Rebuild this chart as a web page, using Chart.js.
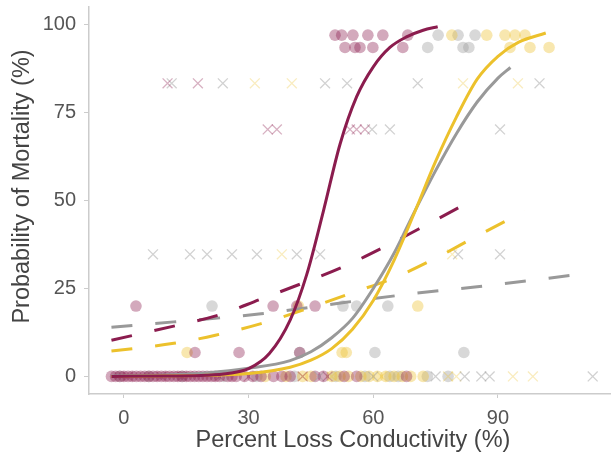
<!DOCTYPE html>
<html>
<head>
<meta charset="utf-8">
<script src="https://cdn.jsdelivr.net/npm/chart.js@4/dist/chart.umd.min.js"></script>
<style>
  html, body { margin: 0; padding: 0; background: #ffffff; }
  #chart { display: block; }
</style>
</head>
<body>
<canvas id="chart" width="611" height="471"></canvas>
<script>
// ---- observed outcomes: [percent loss conductivity, mortality %] ----
const maroonDots = [
  [-3,0],[-2,0],[-1,0],[0,0],[1,0],[2,0],[3,0],[4,0],[5,0],[6,0],[7,0],[8,0],[9,0],[10,0],
  [11,0],[12,0],[13,0],[14,0],[15,0],[16,0],[17,0],[18,0],[19,0],[20,0],[21,0],[22,0],[23,0],
  [25,0],[26,0],[27,0],[29,0],[31,0],[33,0],[36,0],[38,0],[40,0],[46,0],[48,0],[53,0],[56,0],[68,0],
  [17.1,6.8],[27.7,6.8],[42.3,6.8],
  [2.9,20],[35.9,20],[41.6,20],[46,20],
  [53.2,93.5],[55.6,93.5],[56.8,93.5],[59.9,93.5],[67.1,93.5],
  [50.8,97],[52.4,97],[55.1,97],[58.7,97],[62.3,97],[68.3,97]
];
const goldDots = [
  [34,0],[39,0],[43,0],[45,0],[50,0],[52,0],[54,0],[57,0],[59,0],[61,0],[63,0],[65,0],[67,0],[69,0],[72,0],
  [15.2,6.8],[52.5,6.8],[53.5,6.8],
  [42,20],[70.7,20],
  [92.9,93.5],[97.7,93.5],[102.3,93.5],
  [78.9,97],[87.3,97],[91.7,97],[94.1,97],[96.5,97]
];
const grayDots = [
  [-1,0],[6,0],[14,0],[24,0],[32,0],[41,0],[51,0],[58,0],[64,0],[66,0],[73,0],[78,0],
  [42.3,6.8],[60.4,6.8],[81.8,6.8],
  [21.2,20],[52.7,20],[56,20],[63.5,20],
  [73.1,93.5],[81.6,93.5],[83,93.5],
  [75.6,97],[80.4,97],[84.5,97]
];
const maroonCrosses = [
  [1,0],[9,0],[14,0],[23,0],[30,0],[43,0],[49,0],
  [34.6,70.2],[36.8,70.2],[54.4,70.2],[56,70.2],[58,70.2],
  [10.5,83.3],[17.8,83.3]
];
const grayCrosses = [
  [47,0],[60,0],[75,0],[82,0],[86,0],[88,0],[112.8,0],
  [7,34.7],[15.9,34.7],[20,34.7],[26,34.7],[32,34.7],[41.6,34.7],[47.2,34.7],[80.4,34.7],[90.5,34.7],
  [59.7,70.2],[64,70.2],[90.5,70.2],
  [11.5,83.3],[23.8,83.3],[48.4,83.3],[53.7,83.3],[70.7,83.3],[100,83.3]
];
const goldCrosses = [
  [43,0],[50,0],[62,0],[78,0],[80,0],[93.6,0],[98.4,0],
  [38,34.7],[79,34.7],
  [31.5,83.3],[40.4,83.3],[81.6,83.3],[94.8,83.3]
];

// ---- fitted curves (solid) ----
const maroonFit = [
  [-3,0.0],[10,0.1],[20,0.3],[25,0.8],[30,2.2],[35,6.5],[40,16],[44,29],[48,47],
  [52,66],[56,79.5],[60,88],[64,93.5],[68,96.5],[72,98.4],[75.5,99.4]
];
const grayFit = [
  [-3,0.1],[10,0.4],[20,1.0],[30,2.3],[40,4.5],[45,7],[50,11],[55,16.5],[60,25],
  [65,35],[70,47],[75,58.5],[80,69],[85,78],[90,84.8],[93,87.8]
];
const goldFit = [
  [-3,0.0],[20,0.3],[30,0.8],[40,2.6],[45,4.6],[50,7.9],[55,13.4],[60,21.6],[65,33],
  [70,46.8],[75,61.1],[80,73.7],[85,84.5],[90,91],[95,95],[101.5,97.6]
];

// ---- comparison fits (dashed) ----
const maroonDash = [
  [-3,10.3],[12,14.3],[23,17.5],[33,22],[43,26.5],[52.5,31],[63,37],[73,43.2],[85,50.8]
];
const goldDash = [
  [-3,7.2],[12,9.4],[22,11.7],[33,15],[44,19.2],[54.5,23.6],[65,28],[75,33.6],[84.5,39.6],[96.5,47]
];
const grayDash = [
  [-3,14],[12,15.5],[33,17.8],[53,21],[70,23.6],[85,25.5],[100,27.6],[112,29.4]
];

// ---- axis ticks and titles ----
const xTicks = [0, 30, 60, 90];
const yTicks = [0, 25, 50, 75, 100];
const xTitle = 'Percent Loss Conductivity (%)';
const yTitle = 'Probability of Mortality (%)';

const MAROON = 'rgb(139,28,78)';
const GOLD = 'rgb(236,193,44)';
const GRAY = 'rgb(153,153,153)';
const rgba = (c, a) => c.replace('rgb(', 'rgba(').replace(')', ',' + a + ')');
const pts = arr => arr.map(p => ({ x: p[0], y: p[1] }));

function dots(arr, color) {
  return {
    type: 'scatter', data: pts(arr), pointStyle: 'circle', pointRadius: 5.8,
    backgroundColor: rgba(color, 0.38), borderWidth: 0, pointHoverRadius: 5.8
  };
}
function crosses(arr, color, alpha) {
  return {
    type: 'scatter', data: pts(arr), pointStyle: 'crossRot', pointRadius: 7,
    borderColor: rgba(color, alpha), backgroundColor: 'transparent', borderWidth: 1.3
  };
}
function curve(arr, color, dashed) {
  return {
    type: 'line', data: pts(arr), borderColor: color, borderWidth: 3,
    borderDash: dashed ? [21, 23] : [], pointRadius: 0, fill: false,
    cubicInterpolationMode: 'monotone', borderCapStyle: 'butt'
  };
}

const FONT = "'Liberation Sans', Arial, sans-serif";
const axisGray = '#cccccc';
const tickFont = { family: FONT, size: 20 };

// Axis titles: the x title is centred on the full panel width (which runs past the
// canvas edge), the y title sits slightly above the panel middle.
const axisTitles = {
  id: 'axisTitles',
  afterDraw(chart) {
    const { ctx, chartArea } = chart;
    ctx.save();
    ctx.fillStyle = '#444444';
    ctx.font = '23.5px ' + FONT;
    ctx.textAlign = 'center';
    ctx.textBaseline = 'middle';
    ctx.fillText(xTitle, (chartArea.left + chartArea.right) / 2 + 3, chartArea.bottom + 47);
    ctx.translate(22.5, (chartArea.top + chartArea.bottom) / 2 - 14);
    ctx.rotate(-Math.PI / 2);
    ctx.fillText(yTitle, 0, 0);
    ctx.restore();
  }
};

new Chart(document.getElementById('chart'), {
  type: 'line',
  data: {
    datasets: [
      curve(maroonFit, MAROON, false),
      curve(goldFit, GOLD, false),
      curve(grayFit, GRAY, false),
      curve(maroonDash, MAROON, true),
      curve(goldDash, GOLD, true),
      curve(grayDash, GRAY, true),
      crosses(maroonCrosses, MAROON, 0.35),
      crosses(grayCrosses, GRAY, 0.45),
      crosses(goldCrosses, GOLD, 0.3),
      dots(maroonDots, MAROON),
      dots(goldDots, GOLD),
      dots(grayDots, GRAY)
    ]
  },
  plugins: [axisTitles],
  options: {
    responsive: false,
    animation: false,
    layout: { autoPadding: false, padding: { top: 7, right: 0, bottom: 0, left: 0 } },
    plugins: { legend: { display: false }, tooltip: { enabled: false } },
    scales: {
      x: {
        type: 'linear', min: -8.4, max: 117.2,
        afterBuildTicks: s => { s.ticks = xTicks.map(v => ({ value: v })); },
        afterFit: s => { s.height = 77; s.paddingLeft = 0; s.paddingRight = 0; },
        grid: { drawOnChartArea: false, drawTicks: true, tickLength: 4, color: axisGray, lineWidth: 1 },
        border: { display: true, color: axisGray, width: 1.5 },
        ticks: { color: '#555555', font: tickFont, padding: 8, maxRotation: 0 },
        title: { display: false }
      },
      y: {
        type: 'linear', min: -5, max: 105,
        afterBuildTicks: s => { s.ticks = yTicks.map(v => ({ value: v })); },
        afterFit: s => { s.width = 89; s.paddingTop = 0; s.paddingBottom = 0; },
        grid: { drawOnChartArea: false, drawTicks: true, tickLength: 5, color: axisGray, lineWidth: 1 },
        border: { display: true, color: axisGray, width: 1.5 },
        ticks: { color: '#555555', font: tickFont, padding: 8 },
        title: { display: false }
      }
    }
  }
});
</script>
</body>
</html>
